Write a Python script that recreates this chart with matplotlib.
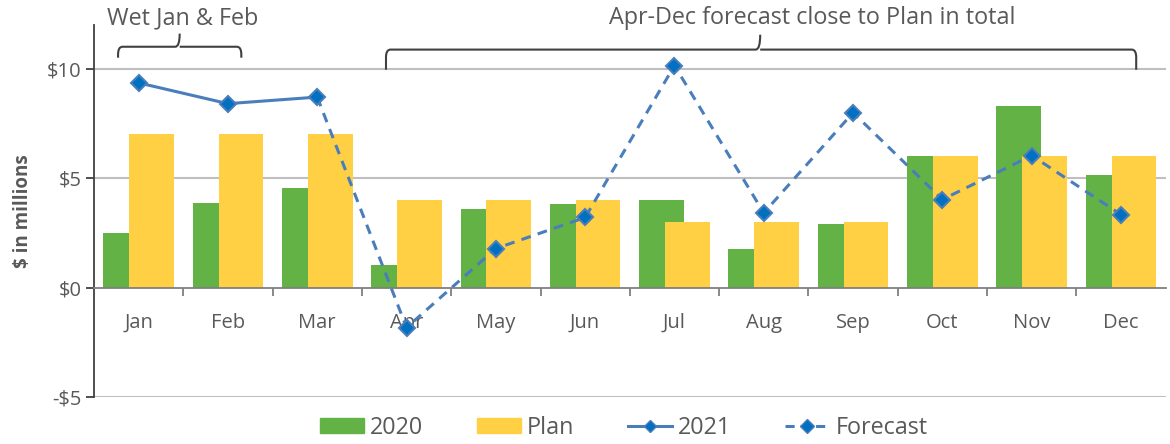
import matplotlib
matplotlib.use("Agg")
import matplotlib.pyplot as plt
from matplotlib.path import Path
from matplotlib.patches import PathPatch, Patch
from matplotlib.lines import Line2D
import numpy as np

months = ["Jan", "Feb", "Mar", "Apr", "May", "Jun",
          "Jul", "Aug", "Sep", "Oct", "Nov", "Dec"]
values_2020 = [2.51, 3.88, 4.55, 1.04, 3.6, 3.8, 4.02, 1.75, 2.92, 6.03, 8.3, 5.16]
values_plan = [7, 7, 7, 4, 4, 4, 3, 3, 3, 6, 6, 6]
values_2021 = [9.35, 8.4, 8.7]  # Jan-Mar actuals
values_forecast = [8.7, -1.83, 1.78, 3.2, 10.14, 3.41, 7.99, 4.02, 6.03, 3.33]  # Mar-Dec
ytick_values = [-5, 0, 5, 10]
ytick_labels = ["-$5", "$0", "$5", "$10"]

green = "#63b246"
yellow = "#ffcf44"
line_col = "#4a7ebb"
marker_col = "#0070c0"
text_col = "#595959"

plt.rcParams['font.family'] = ['Open Sans', 'DejaVu Sans']

fig = plt.figure(figsize=(11.7, 4.44), dpi=100)
ax = fig.add_axes([0.0803, 0.106, 0.916, 0.838])

x = np.arange(len(months))
ax.bar(x - 0.145, values_2020, width=0.5, color=green, zorder=2)
ax.bar(x + 0.145, values_plan, width=0.5, color=yellow, zorder=3)

x21 = x[:len(values_2021)]
xfc = x[len(values_2021) - 1:]
ax.plot(xfc, values_forecast, color=line_col, lw=2.2, ls=(0, (3.2, 2.4)), zorder=4,
        marker="D", ms=8, mfc=marker_col, mec=line_col, mew=1.5,
        markevery=list(range(1, len(xfc))))
ax.plot(x21, values_2021, color=line_col, lw=2.2, zorder=5,
        marker="D", ms=8, mfc=marker_col, mec=line_col, mew=1.5)

ax.set_xlim(-0.5, 11.5)
ax.set_ylim(-5, 12)

# gridlines
for yv in [5, 10, -5]:
    ax.axhline(yv, color="#bfbfbf", lw=1.5, zorder=1)

for s in ["top", "right"]:
    ax.spines[s].set_visible(False)
ax.spines["bottom"].set_position(("data", 0))
ax.spines["bottom"].set_color("#7f7f7f")
ax.spines["bottom"].set_linewidth(1.3)
ax.spines["left"].set_color("#404040")
ax.spines["left"].set_linewidth(1.3)
ax.spines["bottom"].set_zorder(6)

ax.set_yticks(ytick_values)
ax.set_yticklabels(ytick_labels, fontsize=14.5, color=text_col)
ax.tick_params(axis="y", length=6, width=1.3, color="#404040", pad=3)

ax.set_xticks(np.arange(0.5, 11.5, 1.0))
ax.set_xticklabels([])
ax.tick_params(axis="x", which="major", length=6, width=1.3, color="#7f7f7f", direction="out")
ax.set_xticks(x, minor=True)
ax.set_xticklabels(months, minor=True, fontsize=14.5, color=text_col)
ax.tick_params(axis="x", which="minor", length=0, pad=18)

ax.set_ylabel("$ in millions", fontsize=13.5, fontweight="bold", color=text_col, labelpad=10)


def brace(x0, x1, xm, ytip, yh, ytop, rx=0.05, ry=0.35):
    verts = [(x0, ytip), (x0, yh - ry), (x0, yh), (x0 + rx, yh),
             (xm - rx, yh), (xm, yh), (xm, ytop),
             (xm, yh), (xm + rx, yh),
             (x1 - rx, yh), (x1, yh), (x1, yh - ry), (x1, ytip)]
    codes = [Path.MOVETO, Path.LINETO, Path.CURVE3, Path.CURVE3,
             Path.LINETO, Path.CURVE3, Path.CURVE3,
             Path.MOVETO, Path.CURVE3,
             Path.LINETO, Path.CURVE3, Path.CURVE3, Path.LINETO]
    p = PathPatch(Path(verts, codes), fill=False, ec="#404040", lw=1.5, clip_on=False, zorder=6)
    ax.add_patch(p)


brace(-0.23, 1.15, 0.46, 10.5, 11.0, 11.6)
brace(2.77, 11.17, 6.96, 9.95, 10.87, 11.55)

ax.text(0.49, 12.3, "Wet Jan & Feb", ha="center", va="center", fontsize=16.8,
        color=text_col, clip_on=False)
ax.text(7.54, 12.3, "Apr-Dec forecast close to Plan in total", ha="center", va="center",
        fontsize=16.8, color=text_col, clip_on=False)

handles = [Patch(color=green), Patch(color=yellow),
           Line2D([], [], color=line_col, lw=2.2, marker="D", ms=6, mfc=marker_col, mec=line_col),
           Line2D([], [], color=line_col, lw=2.2, ls=(0, (3, 2)), marker="D", ms=7,
                  mfc=marker_col, mec=line_col)]
fig.legend(handles, ["2020", "Plan", "2021", "Forecast"], loc="center",
           bbox_to_anchor=(0.533, 0.036), ncol=4, frameon=False, fontsize=16.8,
           labelcolor=text_col, columnspacing=2.3, handlelength=1.9, handletextpad=0.25,
           handleheight=0.6)

fig.savefig("out.png", dpi=100)
